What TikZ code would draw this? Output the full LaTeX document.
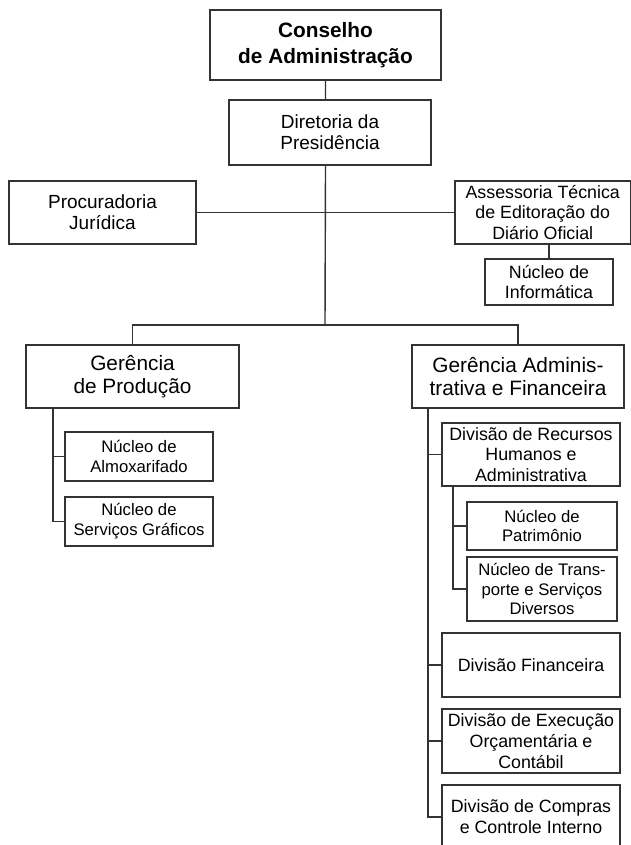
\documentclass[tikz,border=0pt]{standalone}
\usepackage{fontspec}
\setmainfont{Liberation Sans}
\begin{document}
\begin{tikzpicture}[x=1pt,y=-1pt,
    box/.style={draw=black!80,line width=1.4pt,align=center,inner sep=0pt},
    conn/.style={draw=black!80,line width=1.4pt},
    huge/.style={font=\fontsize{20.8}{25.5}\selectfont\bfseries},
    large/.style={font=\fontsize{20.8}{23.5}\selectfont},
    mid/.style={font=\fontsize{19}{21}\selectfont},
    div/.style={font=\fontsize{17.8}{20.8}\selectfont},
    nuc/.style={font=\fontsize{16.7}{19.8}\selectfont}]
  \useasboundingbox (0,0) rectangle (631,845);
  \node[box,huge,minimum width=231pt,minimum height=70pt] (cons) at (325.5,45) {Conselho\\de Administração};
  \node[box,mid,minimum width=202pt,minimum height=65pt] (dir) at (330,132.5) {Diretoria da\\Presidência};
  \node[box,mid,minimum width=187pt,minimum height=63pt] (proc) at (102.5,212.5) {Procuradoria\\Jurídica};
  \node[box,div,minimum width=175.5pt,minimum height=63pt] (ass) at (542.75,212.5) {Assessoria Técnica\\de Editoração do\\Diário Oficial};
  \node[box,div,minimum width=128pt,minimum height=46pt] (inf) at (549,282) {Núcleo de\\Informática};
  \node[box,large,minimum width=213pt,minimum height=63pt] (gp) at (132.5,376.5) {Gerência\\de Produção};
  \node[box,large,minimum width=212pt,minimum height=63pt] (ga) at (518,376.5) {Gerência Adminis-\\trativa e Financeira};
  \node[box,nuc,minimum width=148pt,minimum height=49pt] (alm) at (139,456.5) {Núcleo de\\Almoxarifado};
  \node[box,nuc,minimum width=148pt,minimum height=49pt] (graf) at (139,521.5) {Núcleo de\\Serviços Gráficos};
  \node[box,div,minimum width=178pt,minimum height=63pt] (rh) at (531,454.5) {Divisão de Recursos\\Humanos e\\Administrativa};
  \node[box,nuc,minimum width=150pt,minimum height=48pt] (pat) at (542,526) {Núcleo de\\Patrimônio};
  \node[box,nuc,minimum width=150pt,minimum height=64pt] (trans) at (542,589) {Núcleo de Trans-\\porte e Serviços\\Diversos};
  \node[box,div,minimum width=178pt,minimum height=64pt] (fin) at (531,665) {Divisão Financeira};
  \node[box,div,minimum width=178pt,minimum height=64pt] (exe) at (531,741) {Divisão de Execução\\Orçamentária e\\Contábil};
  \node[box,div,minimum width=178pt,minimum height=64pt] (comp) at (531,817) {Divisão de Compras\\e Controle Interno};
  \coordinate (hub) at (325,325);
  \coordinate (gpb) at (53,408);
  \coordinate (gab) at (428,408);
  \coordinate (rhb) at (453,486);
  \draw[conn] (cons.south) -- (cons.south |- dir.north) (cons.south |- dir.south) -- (hub);
  \draw[conn] (proc.east) -- (ass.west) (inf.north) -- (inf.north |- ass.south);
  \draw[conn] (gp.north) |- (hub) -| (ga.north);
  \draw[conn] (gpb) |- (graf.west) (gpb |- alm.west) -- (alm.west);
  \draw[conn] (gab) |- (comp.west) (gab |- rh.west) -- (rh.west) (gab |- fin.west) -- (fin.west) (gab |- exe.west) -- (exe.west);
  \draw[conn] (rhb) |- (trans.west) (rhb |- pat.west) -- (pat.west);
\end{tikzpicture}
\end{document}
